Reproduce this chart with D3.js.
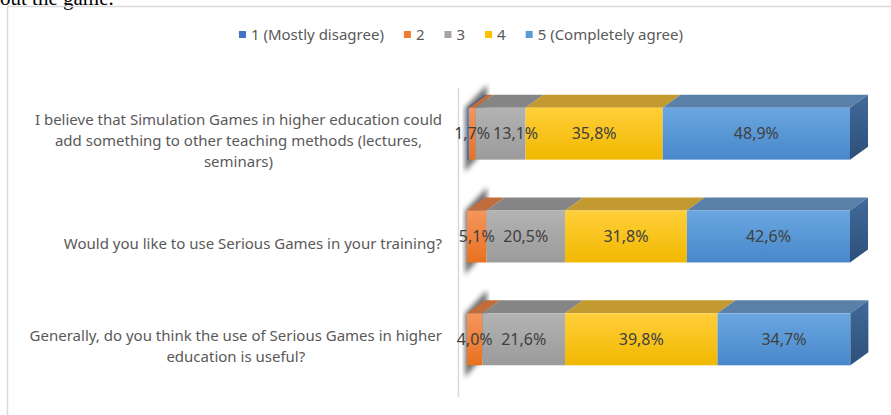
<!DOCTYPE html>
<html>
<head>
<meta charset="utf-8">
<script src="https://cdn.jsdelivr.net/npm/d3@7"></script>
<style>
  html, body { margin: 0; padding: 0; background: #fff; }
  svg { display: block; }
</style>
</head>
<body>
<script>
// chart data (share of answers, in percent)
const categories = [
  'I believe that Simulation Games in higher education could add something to other teaching methods (lectures, seminars)',
  'Would you like to use Serious Games in your training?',
  'Generally, do you think the use of Serious Games in higher education is useful?'
];
const categoryLines = [
  ['I believe that Simulation Games in higher education could', 'add something to other teaching methods (lectures,', 'seminars)'],
  ['Would you like to use Serious Games in your training?'],
  ['Generally, do you think the use of Serious Games in higher', 'education is useful?']
];
const seriesNames = ['1 (Mostly disagree)', '2', '3', '4', '5 (Completely agree)'];
const s1 = [0.5, 0, 0];
const s2 = [1.7, 5.1, 4.0];
const s3 = [13.1, 20.5, 21.6];
const s4 = [35.8, 31.8, 39.8];
const s5 = [48.9, 42.6, 34.7];
const seriesValues = [s1, s2, s3, s4, s5];

const W = 891, H = 415;
const dx = 18, dy = 13; // 3d depth
const font = 'Noto Sans, sans-serif';

/** face colours per series: front gradient top/bottom, top face */
const front = [['#5a86d2', '#3f69b8'], ['#f5955d', '#e8711f'], ['#b3b3b3', '#9b9b9b'], ['#ffcf3a', '#f1b800'], ['#6aa7e1', '#4887ca']];
const topFace = ['#3b5d9c', '#c06c3c', '#858585', '#c29a30', '#5a7fa8'];
const legendColor = ['#4472c4', '#ed7d31', '#a5a5a5', '#ffc000', '#5b9bd5'];

const svg = d3.select('body').append('svg').attr('width', W).attr('height', H);
const defs = svg.append('defs');

front.forEach((c, i) => {
  const g = defs.append('linearGradient').attr('id', 'grad' + i)
    .attr('x1', 0).attr('y1', 0).attr('x2', 0).attr('y2', 1);
  g.append('stop').attr('offset', '0%').attr('stop-color', c[0]);
  g.append('stop').attr('offset', '100%').attr('stop-color', c[1]);
});
const sideGrad = defs.append('linearGradient').attr('id', 'side')
  .attr('x1', 0).attr('y1', 0).attr('x2', 0).attr('y2', 1);
sideGrad.append('stop').attr('offset', '0%').attr('stop-color', '#41699a');
sideGrad.append('stop').attr('offset', '100%').attr('stop-color', '#2d5079');
defs.append('filter').attr('id', 'blur').append('feGaussianBlur').attr('stdDeviation', 2.5);

// text above the chart (cut off in the picture)
svg.append('text')
  .attr('x', 0).attr('y', 5)
  .attr('font-family', 'Liberation Serif, serif')
  .attr('font-size', 21)
  .attr('fill', '#000')
  .text('out the game.');

// chart border
svg.append('rect')
  .attr('x', 7.5).attr('y', 6.5)
  .attr('width', W + 20).attr('height', H + 20)
  .attr('fill', 'none').attr('stroke', '#d9d9d9').attr('stroke-width', 1.5);

/** scales */
const x = d3.scaleLinear().domain([0, 100]).range([467, 850]);
const y = d3.scaleBand().domain(categories).range([82, 391])
  .paddingInner(0.495).paddingOuter(0.25);

// build stacked table
const table = categories.map((c, i) => {
  const row = { category: c };
  seriesNames.forEach((s, j) => { row[s] = seriesValues[j][i]; });
  return row;
});
const stacked = d3.stack().keys(seriesNames)(table);

// vertical axis line
svg.append('line')
  .attr('x1', 458.5).attr('x2', 458.5)
  .attr('y1', 88).attr('y2', 397)
  .attr('stroke', '#d9d9d9').attr('stroke-width', 1.5);

// left shadows
svg.append('g').selectAll('path')
  .data(categories)
  .enter().append('path')
  .attr('d', c => {
    const x0 = x(0), t = y(c), b = y(c) + y.bandwidth();
    return `M${x0 - 2},${t} L${x0 + dx + 2},${t - dy - 10} L${x0 + dx + 2},${b - dy} L${x0 - 2},${b + 12} Z`;
  })
  .attr('fill', '#404040')
  .attr('opacity', 0.75)
  .attr('filter', 'url(#blur)');

const bars = svg.append('g');

stacked.forEach((layer, si) => {
  // top faces
  bars.append('g').selectAll('path')
    .data(layer)
    .enter().append('path')
    .attr('d', d => {
      const x0 = x(d[0]), x1 = x(d[1]), t = y(d.data.category);
      return `M${x0},${t} L${x0 + dx},${t - dy} L${x1 + dx},${t - dy} L${x1},${t} Z`;
    })
    .attr('fill', topFace[si]);
  // front faces
  bars.append('g').selectAll('rect')
    .data(layer)
    .enter().append('rect')
    .attr('x', d => x(d[0]))
    .attr('y', d => y(d.data.category))
    .attr('width', d => x(d[1]) - x(d[0]))
    .attr('height', y.bandwidth())
    .attr('fill', `url(#grad${si})`);
});

// right side of each bar
const last = stacked[stacked.length - 1];
bars.append('g').selectAll('path')
  .data(last)
  .enter().append('path')
  .attr('d', d => {
    const x1 = x(d[1]), t = y(d.data.category), b = t + y.bandwidth();
    return `M${x1},${t} L${x1 + dx},${t - dy} L${x1 + dx},${b - dy} L${x1},${b} Z`;
  })
  .attr('fill', 'url(#side)');

// data labels
const labelG = svg.append('g');
stacked.forEach(layer => {
  labelG.append('g').selectAll('text')
    .data(layer.filter(d => d[1] - d[0] >= 1))
    .enter().append('text')
    .attr('class', 'dlabel')
    .attr('x', d => x((d[0] + d[1]) / 2))
    .attr('y', d => y(d.data.category) + y.bandwidth() / 2)
    .attr('dy', '0.35em')
    .attr('text-anchor', 'middle')
    .attr('font-family', font)
    .attr('font-size', 16)
    .attr('fill', '#404040')
    .text(d => d3.format('.1f')(d[1] - d[0]).replace('.', ',') + '%');
});

// push labels right when they would run into the one before
categories.forEach(c => {
  const row = labelG.selectAll('text.dlabel')
    .filter(d => d.data.category === c)
    .nodes()
    .sort((a, b) => +a.getAttribute('x') - +b.getAttribute('x'));
  let prevRight = -Infinity;
  row.forEach(n => {
    const w = n.getComputedTextLength();
    let cx = +n.getAttribute('x');
    if (cx - w / 2 < prevRight + 3) {
      cx = prevRight + 3 + w / 2;
      n.setAttribute('x', cx);
    }
    prevRight = cx + w / 2;
  });
});

// category labels: block right-aligned at the axis, lines centred in the block
const catG = svg.append('g');
const labelRight = 442;
categories.forEach((c, i) => {
  const lines = categoryLines[i];
  const cy = y(c) + y.bandwidth() / 2 + 7;
  const lh = 21;
  const t = catG.append('text')
    .attr('text-anchor', 'middle')
    .attr('font-family', font)
    .attr('font-size', 15)
    .attr('fill', '#595959');
  const spans = t.selectAll('tspan')
    .data(lines)
    .enter().append('tspan')
    .attr('y', (d, k) => cy + (k - (lines.length - 1) / 2) * lh)
    .attr('dy', '0.35em')
    .text(d => d);
  const maxW = d3.max(spans.nodes(), n => n.getComputedTextLength());
  spans.attr('x', labelRight - maxW / 2);
});

// legend
const legend = svg.append('g');
let lx = 0;
seriesNames.forEach((s, i) => {
  const item = legend.append('g').attr('transform', `translate(${lx},0)`);
  item.append('rect').attr('x', 0).attr('y', -4).attr('width', 7).attr('height', 7)
    .attr('fill', legendColor[i]);
  const t = item.append('text')
    .attr('x', 12).attr('y', 0).attr('dy', '0.35em')
    .attr('font-family', font)
    .attr('font-size', 15)
    .attr('fill', '#595959')
    .text(s);
  lx += 12 + t.node().getComputedTextLength() + 20;
});
const legW = lx - 20;
legend.attr('transform', `translate(${461 - legW / 2},35)`);
</script>
</body>
</html>
